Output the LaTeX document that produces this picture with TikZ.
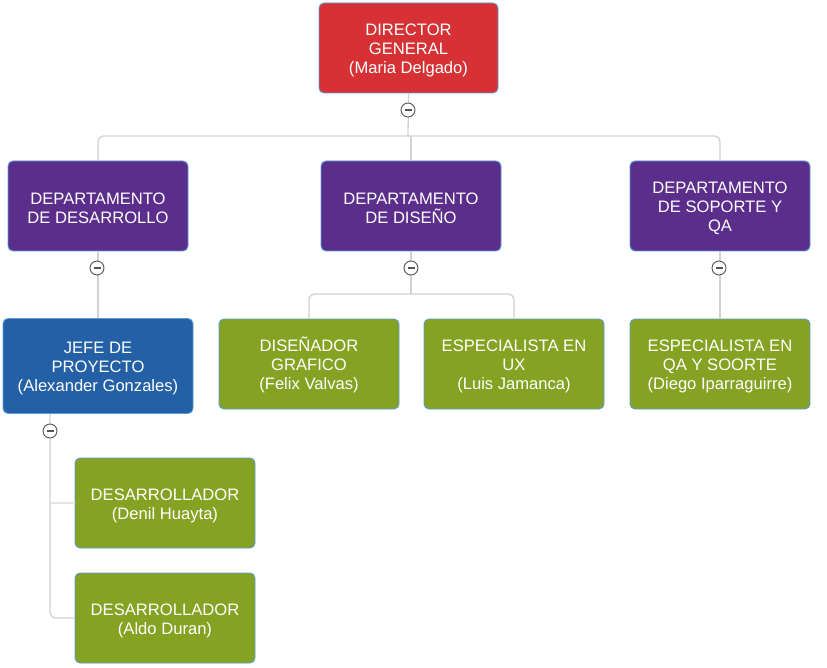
\documentclass[tikz,border=0pt]{standalone}
\usepackage{fontspec}
\setmainfont{Liberation Sans}
\definecolor{cred}{HTML}{D63236}
\definecolor{cpurple}{HTML}{5B2E8C}
\definecolor{cblue}{HTML}{2360A5}
\definecolor{cgreen}{HTML}{86A223}
\definecolor{cborder}{HTML}{5A9AD8}
\definecolor{cline}{HTML}{D2D2D2}
\definecolor{ccirc}{HTML}{555555}
\begin{document}
\begin{tikzpicture}[x=1pt,y=-1pt,
  box/.style={draw=cborder,line width=0.9pt,rounded corners=5pt,text=white,align=center,
    minimum width=180pt,minimum height=90pt,inner sep=2pt,
    font=\fontsize{16.6}{19}\selectfont},
  redbox/.style={box,fill=cred},
  purplebox/.style={box,fill=cpurple},
  bluebox/.style={box,fill=cblue},
  greenbox/.style={box,fill=cgreen},
  conn/.style={draw=cline,line width=1.3pt,rounded corners=6pt},
  collapse/.style={circle,draw=ccirc,fill=white,line width=0.9pt,minimum size=14pt,inner sep=0pt,
    path picture={\draw[ccirc,line width=1.3pt] ([xshift=-3.5pt]path picture bounding box.center) -- ([xshift=3.5pt]path picture bounding box.center);}}
]
\useasboundingbox (0,0) rectangle (827,668);
\fill[white] (0,0) rectangle (827,668);

% nodes
\node[redbox,minimum width=179pt] (dir) at (408.5,48) {\rule{0pt}{17pt}DIRECTOR\\GENERAL\\(Maria Delgado)};
\node[purplebox] (d1) at (98,206) {\rule{0pt}{17pt}DEPARTAMENTO\\DE DESARROLLO};
\node[purplebox] (d2) at (411,206) {\rule{0pt}{17pt}DEPARTAMENTO\\DE DISEÑO};
\node[purplebox] (d3) at (720,206) {\rule{0pt}{17pt}DEPARTAMENTO\\DE SOPORTE Y\\QA};
\node[bluebox,minimum width=190pt,minimum height=95pt] (jefe) at (98,366) {\rule{0pt}{17pt}JEFE DE\\PROYECTO\\(Alexander Gonzales)};
\node[greenbox] (dis) at (309,364) {\rule{0pt}{17pt}DISEÑADOR\\GRAFICO\\(Felix Valvas)};
\node[greenbox] (ux) at (514,364) {\rule{0pt}{17pt}ESPECIALISTA EN\\UX\\(Luis Jamanca)};
\node[greenbox] (qa) at (720,364) {\rule{0pt}{17pt}ESPECIALISTA EN\\QA Y SOORTE\\(Diego Iparraguirre)};
\node[greenbox] (dev1) at (165,503) {\rule{0pt}{17pt}DESARROLLADOR\\(Denil Huayta)};
\node[greenbox] (dev2) at (165,618) {\rule{0pt}{17pt}DESARROLLADOR\\(Aldo Duran)};

% branch points
\coordinate (b0) at (408,136);
\coordinate (b2) at (411,294);

% connectors
\draw[conn] (dir.south) -- (b0);
\draw[conn] (b0) -| (d1.north);
\draw[conn] (b0) -| (d3.north);
\draw[conn] (b0 -| d2.north) -- (d2.north);
\draw[conn] (d1.south) -- (d1.south |- jefe.north);
\draw[conn] (d2.south) -- (b2);
\draw[conn] (b2) -| (dis.north);
\draw[conn] (b2) -| (ux.north);
\draw[conn] (d3.south) -- (qa.north);
\draw[conn] (jefe.south -| 50,0) |- (dev2.west);
\draw[conn,draw=cline!60] (50,503) -- (dev1.west);

% collapse markers
\node[collapse] (c0) at (408,110) {};
\node[collapse] (c1) at (97,268) {};
\node[collapse] (c2) at (411,268) {};
\node[collapse] (c3) at (719,268) {};
\node[collapse] (c4) at (50,431) {};
\end{tikzpicture}
\end{document}
